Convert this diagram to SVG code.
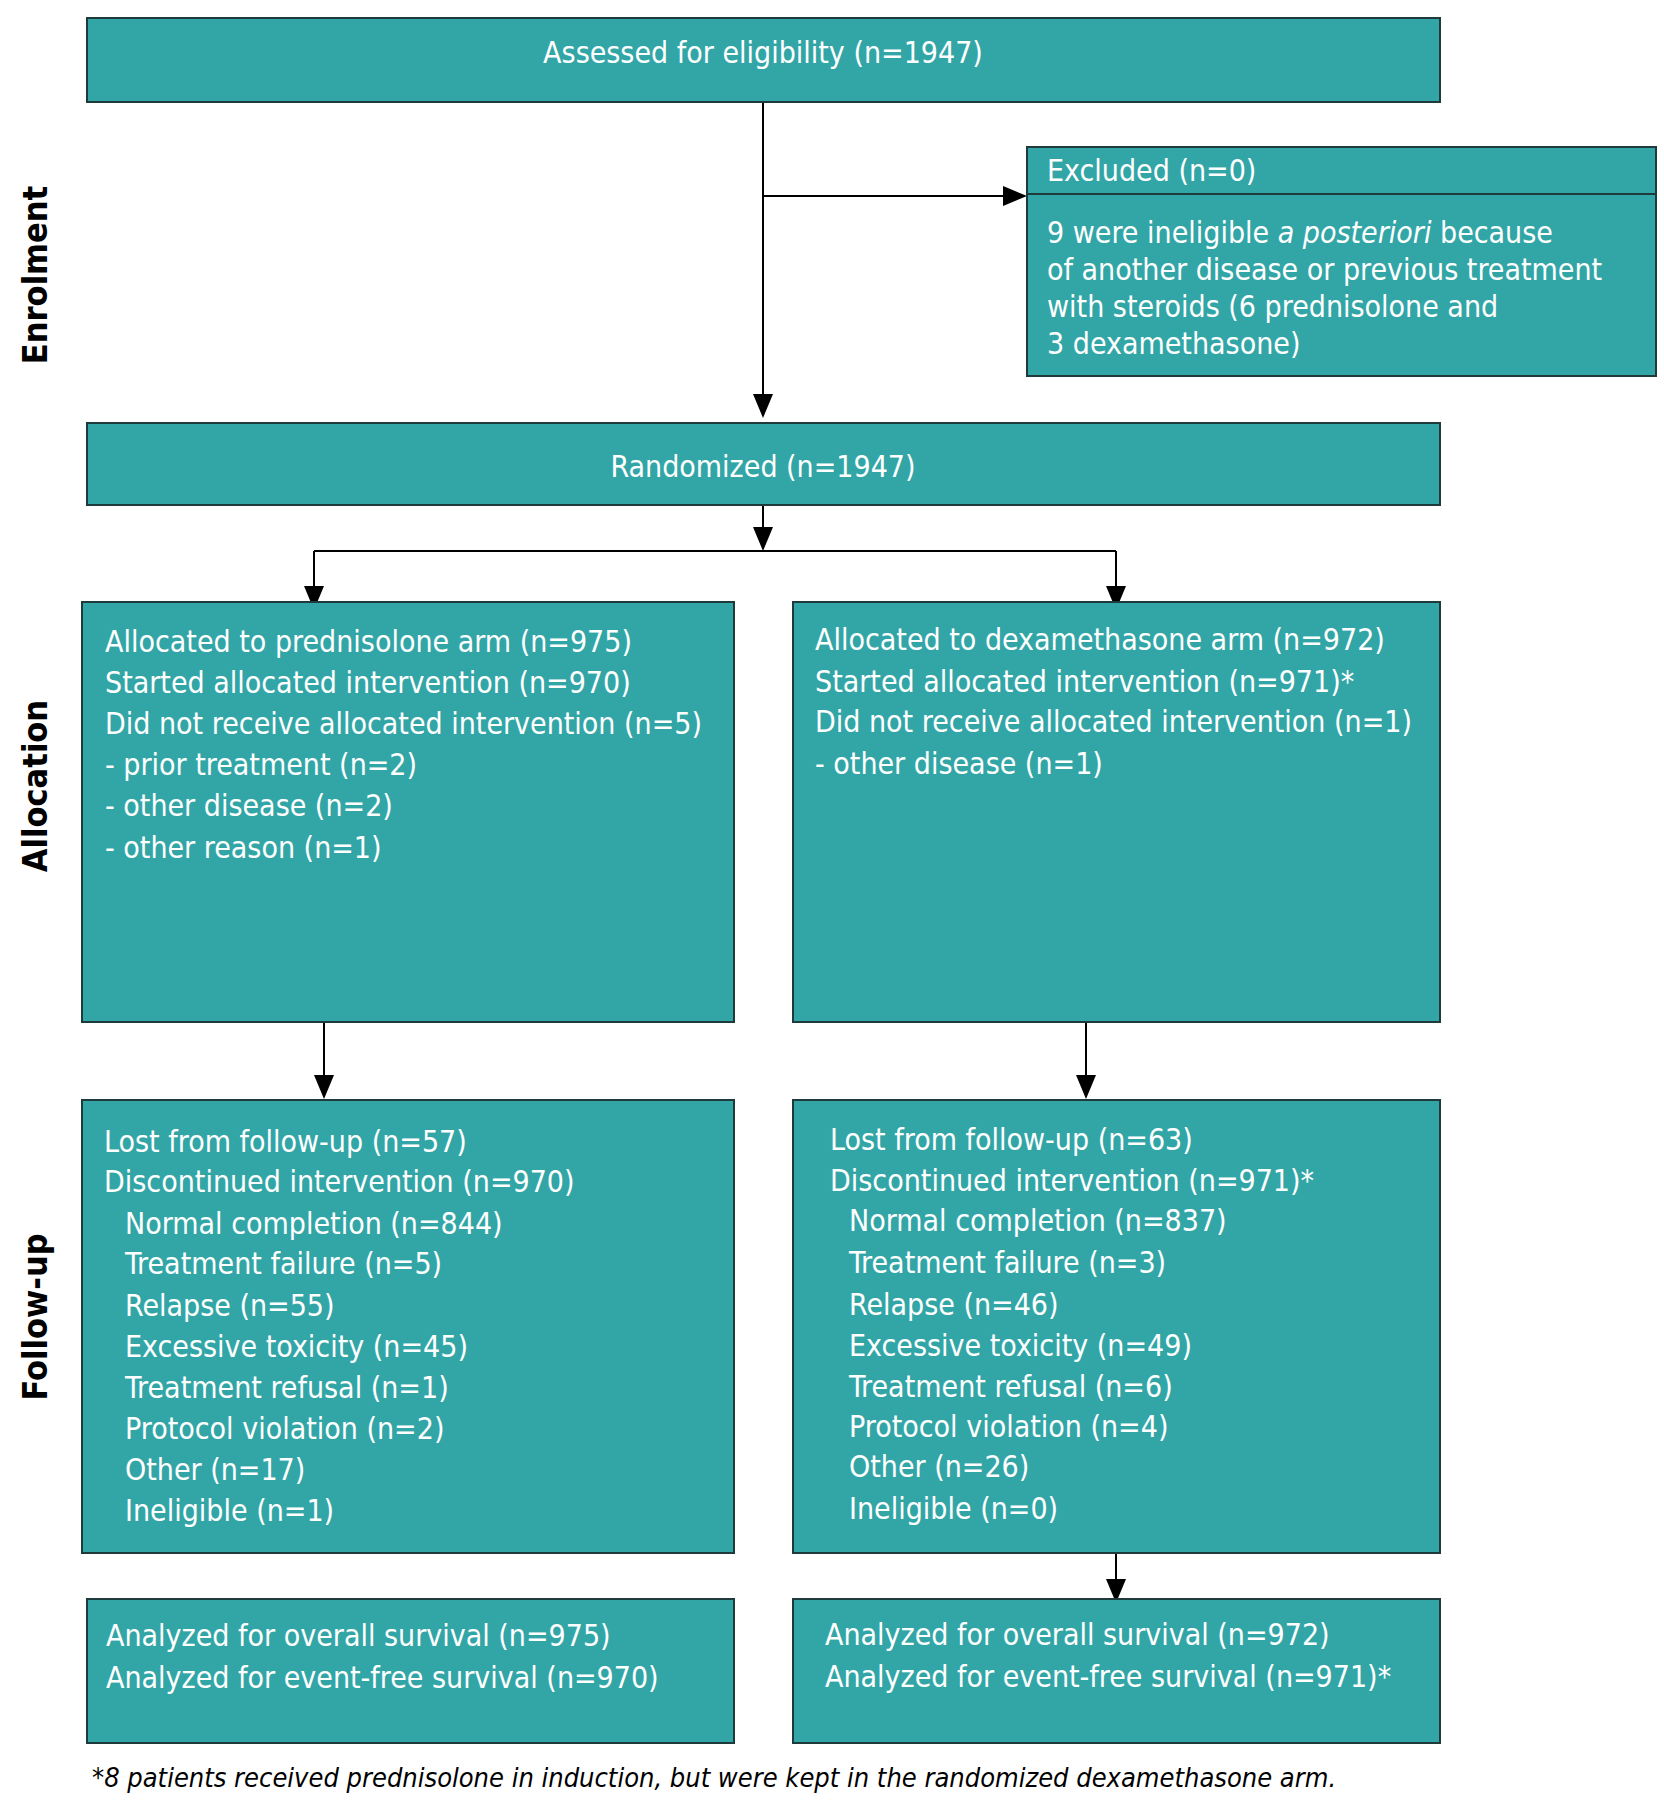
<svg xmlns="http://www.w3.org/2000/svg" width="1664" height="1800" viewBox="0 0 1664 1800">
<style>
.b{fill:#32a6a6;stroke:#1f3a3a;stroke-width:2}
.t{font-family:"DejaVu Sans Condensed","DejaVu Sans",sans-serif;font-size:30px;fill:#fff;font-stretch:condensed}
.s{font-family:"DejaVu Sans Condensed","DejaVu Sans",sans-serif;font-weight:bold;font-size:34px;fill:#000}
.c{stroke:#000;stroke-width:2;fill:none}
</style>
<defs><marker id="m" markerWidth="24" markerHeight="24" refX="22" refY="12" orient="auto" markerUnits="userSpaceOnUse" viewBox="0 0 24 24"><path d="M0,2L24,12L0,22z" fill="#000"/></marker></defs>
<rect width="1664" height="1800" fill="#fff"/>
<g id="labels">
<text class="s" transform="translate(47,275) rotate(-90)" text-anchor="middle">Enrolment</text>
<text class="s" transform="translate(47,786) rotate(-90)" text-anchor="middle">Allocation</text>
<text class="s" transform="translate(47,1317) rotate(-90)" text-anchor="middle">Follow-up</text>
</g>
<g id="connectors">
<path class="c" d="M763,102V416" marker-end="url(#m)"/>
<path class="c" d="M763,196H1025" marker-end="url(#m)"/>
<path class="c" d="M763,505V549" marker-end="url(#m)"/>
<path class="c" d="M314,551H1116"/>
<path class="c" d="M314,551V608" marker-end="url(#m)"/>
<path class="c" d="M1116,551V608" marker-end="url(#m)"/>
<path class="c" d="M324,1022V1097" marker-end="url(#m)"/>
<path class="c" d="M1086,1022V1097" marker-end="url(#m)"/>
<path class="c" d="M1116,1553V1601" marker-end="url(#m)"/>
</g>
<g id="assessed"><rect class="b" x="87" y="18" width="1353" height="84"/>
<text class="t" x="763" y="63" text-anchor="middle">Assessed for eligibility (n=1947)</text></g>
<g id="excluded"><rect class="b" x="1027" y="147" width="629" height="229"/>
<path d="M1027,194H1656" stroke="#1f3a3a" stroke-width="2"/>
<text class="t" x="1047" y="181">Excluded (n=0)</text>
<text class="t" x="1047" y="243">9 were ineligible <tspan font-style="italic">a posteriori</tspan> because</text>
<text class="t" x="1047" y="280">of another disease or previous treatment</text>
<text class="t" x="1047" y="317">with steroids (6 prednisolone and</text>
<text class="t" x="1047" y="354">3 dexamethasone)</text></g>
<g id="randomized"><rect class="b" x="87" y="423" width="1353" height="82"/>
<text class="t" x="763" y="477" text-anchor="middle">Randomized (n=1947)</text></g>
<g id="allocL"><rect class="b" x="82" y="602" width="652" height="420"/>
<text class="t" x="105" y="652">Allocated to prednisolone arm (n=975)</text>
<text class="t" x="105" y="693">Started allocated intervention (n=970)</text>
<text class="t" x="105" y="734">Did not receive allocated intervention (n=5)</text>
<text class="t" x="105" y="775">- prior treatment (n=2)</text>
<text class="t" x="105" y="816">- other disease (n=2)</text>
<text class="t" x="105" y="858">- other reason (n=1)</text></g>
<g id="allocR"><rect class="b" x="793" y="602" width="647" height="420"/>
<text class="t" x="815" y="650">Allocated to dexamethasone arm (n=972)</text>
<text class="t" x="815" y="692">Started allocated intervention (n=971)*</text>
<text class="t" x="815" y="732">Did not receive allocated intervention (n=1)</text>
<text class="t" x="815" y="774">- other disease (n=1)</text></g>
<g id="followL"><rect class="b" x="82" y="1100" width="652" height="453"/>
<text class="t" x="104" y="1152">Lost from follow-up (n=57)</text>
<text class="t" x="104" y="1192">Discontinued intervention (n=970)</text>
<text class="t" x="125" y="1234">Normal completion (n=844)</text>
<text class="t" x="125" y="1274">Treatment failure (n=5)</text>
<text class="t" x="125" y="1316">Relapse (n=55)</text>
<text class="t" x="125" y="1357">Excessive toxicity (n=45)</text>
<text class="t" x="125" y="1398">Treatment refusal (n=1)</text>
<text class="t" x="125" y="1439">Protocol violation (n=2)</text>
<text class="t" x="125" y="1480">Other (n=17)</text>
<text class="t" x="125" y="1521">Ineligible (n=1)</text></g>
<g id="followR"><rect class="b" x="793" y="1100" width="647" height="453"/>
<text class="t" x="830" y="1150">Lost from follow-up (n=63)</text>
<text class="t" x="830" y="1191">Discontinued intervention (n=971)*</text>
<text class="t" x="849" y="1231">Normal completion (n=837)</text>
<text class="t" x="849" y="1273">Treatment failure (n=3)</text>
<text class="t" x="849" y="1315">Relapse (n=46)</text>
<text class="t" x="849" y="1356">Excessive toxicity (n=49)</text>
<text class="t" x="849" y="1397">Treatment refusal (n=6)</text>
<text class="t" x="849" y="1437">Protocol violation (n=4)</text>
<text class="t" x="849" y="1477">Other (n=26)</text>
<text class="t" x="849" y="1519">Ineligible (n=0)</text></g>
<g id="analyzedL"><rect class="b" x="87" y="1599" width="647" height="144"/>
<text class="t" x="106" y="1646">Analyzed for overall survival (n=975)</text>
<text class="t" x="106" y="1688">Analyzed for event-free survival (n=970)</text></g>
<g id="analyzedR"><rect class="b" x="793" y="1599" width="647" height="144"/>
<text class="t" x="825" y="1645">Analyzed for overall survival (n=972)</text>
<text class="t" x="825" y="1687">Analyzed for event-free survival (n=971)*</text></g>
<text x="92" y="1787" font-family="'DejaVu Sans Condensed','DejaVu Sans',sans-serif" font-size="27" font-style="italic" fill="#000">*8 patients received prednisolone in induction, but were kept in the randomized dexamethasone arm.</text>
</svg>
